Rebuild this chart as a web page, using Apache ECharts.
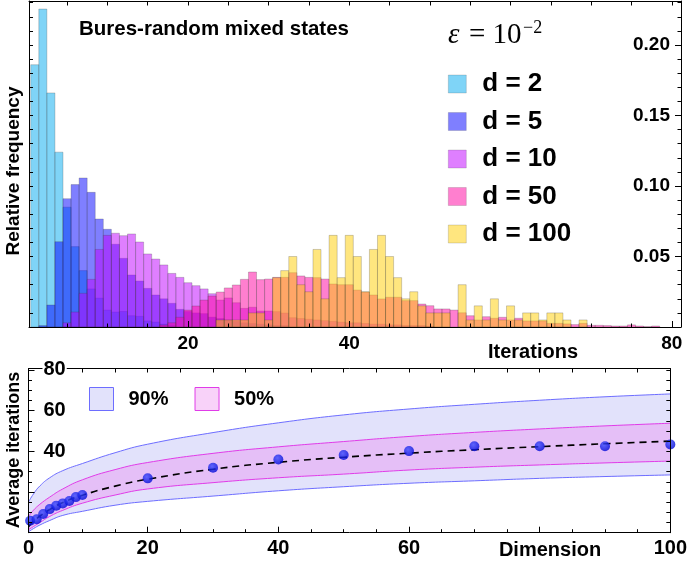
<!DOCTYPE html>
<html>
<head>
<meta charset="utf-8">
<script src="https://cdn.jsdelivr.net/npm/echarts@6/dist/echarts.min.js"></script>
<style>
html, body { margin: 0; padding: 0; background: #fff; }
#chart { width: 690px; height: 566px; }
</style>
</head>
<body>
<div id="chart"></div>
<script>
var FONT = '"Liberation Sans", Arial, sans-serif';

// top panel: relative frequency of iterations, bin n covers n-0.5 .. n+0.5
var d2Start = 1;
var d2 = [0.186, 0.2255, 0.166, 0.124, 0.085, 0.057, 0.040, 0.027, 0.0205, 0.012, 0.0106, 0.011, 0.008, 0.0076, 0.0043, 0.0035, 0.002, 0.001];
var d5Start = 2;
var d5 = [0.001, 0.0156, 0.0605, 0.091, 0.101, 0.1057, 0.0955, 0.0766, 0.0693, 0.0587, 0.0487, 0.0369, 0.0326, 0.0274, 0.0227, 0.020, 0.0168, 0.0125, 0.011, 0.010, 0.0095, 0.007, 0.006, 0.005, 0.004, 0.003, 0.0025, 0.002, 0.0015, 0.001, 0.001];
var d10Start = 5;
var d10 = [0.003, 0.0106, 0.0239, 0.0338, 0.055, 0.065, 0.0665, 0.0648, 0.066, 0.0603, 0.0518, 0.0482, 0.044, 0.038, 0.0352, 0.0314, 0.0293, 0.027, 0.0236, 0.0191, 0.0206, 0.0172, 0.0132, 0.014, 0.0113, 0.0113, 0.0109, 0.0099, 0.0066, 0.006, 0.0055, 0.005, 0.0045, 0.004, 0.0035, 0.003, 0.003, 0.0025, 0.002, 0.002, 0.0015, 0.0015, 0.001, 0.001, 0.001, 0.0005];
var d50Start = 17;
var d50 = [0.0014, 0.003, 0.0069, 0.012, 0.0149, 0.0191, 0.022, 0.0248, 0.0277, 0.0298, 0.0338, 0.039, 0.0336, 0.034, 0.0352, 0.0352, 0.0385, 0.0362, 0.0352, 0.035, 0.034, 0.0305, 0.030, 0.030, 0.0262, 0.0248, 0.0227, 0.0199, 0.0211, 0.0211, 0.0187, 0.0187, 0.0163, 0.0151, 0.0128, 0.0128, 0.012, 0.0101, 0.008, 0.005, 0.0073, 0.0062, 0.0069, 0.005, 0.0062, 0.0043, 0.0043, 0.0043, 0.0026, 0.0026, 0.0022, 0.0017, 0.0026, 0.0012, 0.0012, 0.001, 0.0007, 0.0007, 0.0015, 0.0007, 0.0003, 0.0007];
var d100Start = 24;
var d100 = [0.005, 0.005, 0.005, 0.005, 0.01, 0.01, 0.005, 0.035, 0.04, 0.05, 0.03, 0.025, 0.055, 0.02, 0.065, 0.035, 0.065, 0.05, 0.025, 0.055, 0.065, 0.05, 0.035, 0.02, 0.025, 0.015, 0.01, 0.01, 0.01, 0, 0.03, 0.005, 0.015, 0.005, 0.02, 0.005, 0.015, 0.005, 0.01, 0.01, 0.005, 0.01, 0.01, 0.005, 0, 0.005];
var histNames = ['d = 2', 'd = 5', 'd = 10', 'd = 50', 'd = 100'];
var histColors = ['rgba(0,170,240,0.5)', 'rgba(0,0,255,0.5)', 'rgba(192,0,255,0.5)', 'rgba(255,0,160,0.5)', 'rgba(255,205,0,0.5)'];

// bottom panel: average iterations vs dimension
var dims = [2, 3, 4, 5, 6, 7, 8, 9, 10, 20, 30, 40, 50, 60, 70, 80, 90, 100];
var avgIter = [5.9, 6.6, 9.2, 11.6, 13.3, 14.4, 15.6, 17.5, 18.5, 26.7, 31.9, 36.0, 38.2, 40.1, 42.5, 42.5, 42.5, 43.4];
var fitDim = [1.75, 2.5, 3.5, 5, 7, 10, 15, 20, 30, 40, 50, 60, 70, 80, 90, 100];
var fitMean = [2.9, 5.5, 8.2, 11.4, 14.8, 18.4, 22.9, 26.3, 31.2, 34.6, 37.1, 39.1, 40.8, 42.3, 43.7, 45];
var hi90 = [15, 19, 23, 27, 30.5, 34, 39.3, 43.5, 49.2, 54, 57.9, 60.8, 63.1, 65.1, 66.8, 68.2];
var lo90 = [0.5, 2, 3.8, 6, 8.5, 10.5, 13.5, 15.4, 18, 20.6, 22.6, 24.3, 25.5, 26.7, 27.6, 28.4];
var hi50 = [8, 11, 14, 17.5, 21.5, 26, 31, 34.5, 39, 42.2, 44.8, 47.3, 49.3, 51, 52.5, 53.8];
var lo50 = [1.5, 3, 5, 8, 11, 14.5, 18.5, 21.5, 24.6, 27, 28.8, 30.8, 32.2, 33.3, 34.3, 35.2];

// tick positions
var iterMajor = [20, 40, 60, 80];
var iterLabels = [20, 40, 80];
var freqMajor = [0.05, 0.1, 0.15, 0.2];
var dimLabels = [1.75, 20, 40, 60, 100];
var avgMajor = [20, 40, 60, 80];
var avgLabels = [40, 60, 80];

function steps(a, b, s) {
	var out = [];
	for (var v = a; v <= b + 1e-9; v += s) out.push(Math.round(v * 1000) / 1000);
	return out;
}
function without(list, drop) {
	return list.filter(function(v) { return drop.indexOf(v) < 0; });
}
function bins(start, vals) {
	return vals.map(function(v, i) { return [start + i, v]; });
}
// y first so that the stack is done on the value dimension
function yx(xs, ys) {
	return xs.map(function(x, i) { return [ys[i], x]; });
}
function diff(a, b) {
	return a.map(function(v, i) { return v - b[i]; });
}

var fiveTicks = steps(5, 80, 5);
var fiveTicksDim = steps(5, 95, 5);
var freqTicks = steps(0.01, 0.23, 0.01);

function histBar(params, api) {
	var n = api.value(0), v = api.value(1);
	if (!v) return null;
	var a = api.coord([n - 0.5, v]);
	var b = api.coord([n + 0.5, 0]);
	return {
		type: 'rect',
		shape: { x: a[0], y: a[1], width: b[0] - a[0], height: b[1] - a[1] },
		style: { fill: api.visual('color'), stroke: 'rgba(60,60,60,0.35)', lineWidth: 0.7 }
	};
}

var black = { color: '#000', width: 1 };
function tickAxis(grid, pos, min, max, ticks, len, line) {
	return {
		gridIndex: grid, type: 'value', position: pos, min: min, max: max, z: 10,
		axisLine: { show: line, onZero: false, lineStyle: black },
		axisTick: { show: true, inside: true, length: len, customValues: ticks, lineStyle: black },
		axisLabel: { show: false },
		splitLine: { show: false }
	};
}
var labelStyle = { color: '#000', fontWeight: 'bold', fontFamily: FONT };

var histX = [0.285, 81.14];
var freqY = [0, 0.2312];
var dimX = [1.75, 100];
var avgY = [0, 80.7];

var xAxes = [
	tickAxis(0, 'bottom', histX[0], histX[1], iterMajor, 6, true),
	tickAxis(0, 'bottom', histX[0], histX[1], without(fiveTicks, iterMajor), 3.5, false),
	tickAxis(0, 'top', histX[0], histX[1], fiveTicks, 4.5, true),
	tickAxis(1, 'bottom', dimX[0], dimX[1], avgMajor, 6, true),
	tickAxis(1, 'bottom', dimX[0], dimX[1], without(fiveTicksDim, avgMajor), 3.5, false),
	tickAxis(1, 'top', dimX[0], dimX[1], fiveTicksDim, 4, true)
];
xAxes[0].axisLabel = Object.assign({ show: true, customValues: iterLabels, margin: 7, fontSize: 19 }, labelStyle);
xAxes[3].axisLabel = Object.assign({
	show: true, customValues: dimLabels, margin: 6, fontSize: 20,
	formatter: function(v) { return v < 2 ? '0' : String(v); }
}, labelStyle);

var yAxes = [
	tickAxis(0, 'right', freqY[0], freqY[1], freqMajor, 6, true),
	tickAxis(0, 'right', freqY[0], freqY[1], without(freqTicks, freqMajor), 3.5, false),
	tickAxis(0, 'left', freqY[0], freqY[1], freqTicks, 4, true),
	tickAxis(1, 'left', avgY[0], avgY[1], avgMajor, 6, true),
	tickAxis(1, 'left', avgY[0], avgY[1], without(fiveTicks, avgMajor), 3.5, false),
	tickAxis(1, 'right', avgY[0], avgY[1], fiveTicks, 4, true)
];
yAxes[0].axisLabel = Object.assign({
	show: true, inside: true, customValues: freqMajor, margin: 11, fontSize: 19,
	formatter: function(v) { return v.toFixed(2); }
}, labelStyle);
yAxes[3].axisLabel = Object.assign({
	show: true, inside: true, customValues: avgLabels, margin: 14, fontSize: 20,
	backgroundColor: '#fff', padding: [0, 1]
}, labelStyle);

var histData = [bins(d2Start, d2), bins(d5Start, d5), bins(d10Start, d10), bins(d50Start, d50), bins(d100Start, d100)];
var series = histData.map(function(data, i) {
	return {
		type: 'custom', name: histNames[i], xAxisIndex: 0, yAxisIndex: 0,
		renderItem: histBar, itemStyle: { color: histColors[i] }, data: data, z: 2
	};
});

var blueLine = { color: '#6d6dff', width: 1 };
var pinkLine = { color: '#e03ce8', width: 1 };
function bandLine(name, data, stack, line, area, z) {
	var s = {
		type: 'line', name: name, xAxisIndex: 3, yAxisIndex: 3, data: data,
		encode: { x: 1, y: 0 }, stack: stack, smooth: 0.5,
		symbol: 'none', lineStyle: line, z: z, silent: true
	};
	if (area) s.areaStyle = { color: area, opacity: 1 };
	return s;
}
series.push(bandLine('lo90', yx(fitDim, lo90), 'b90', blueLine, null, 3));
series.push(bandLine('90%', yx(fitDim, diff(hi90, lo90)), 'b90', blueLine, '#e2e2fb', 2));
series.push(bandLine('lo50', yx(fitDim, lo50), 'b50', pinkLine, null, 3));
series.push(bandLine('50%', yx(fitDim, diff(hi50, lo50)), 'b50', pinkLine, 'rgba(236,120,240,0.33)', 2));
series.push({
	type: 'line', name: 'fit', xAxisIndex: 3, yAxisIndex: 3,
	data: fitDim.map(function(x, i) { return [x, fitMean[i]]; }),
	smooth: 0.5, symbol: 'none', z: 4, silent: true,
	lineStyle: { color: '#000', width: 1.6, type: [7, 5] }
});
series.push({
	type: 'scatter', name: 'mean', xAxisIndex: 3, yAxisIndex: 3,
	data: dims.map(function(x, i) { return [x, avgIter[i]]; }),
	symbolSize: 10, z: 5, silent: true,
	itemStyle: {
		color: { type: 'radial', x: 0.4, y: 0.35, r: 0.65,
			colorStops: [{ offset: 0, color: '#3d4dff' }, { offset: 1, color: '#0008d6' }] }
	}
});

var option = {
	animation: false,
	backgroundColor: '#fff',
	grid: [
		{ left: 29, right: 9, top: 1, bottom: 239 },
		{ left: 28.5, right: 5, top: 368.5, bottom: 33.3 }
	],
	xAxis: xAxes,
	yAxis: yAxes,
	legend: [{
		orient: 'vertical', left: 448, top: 71, padding: 0, itemWidth: 18, itemHeight: 18, itemGap: 11.5,
		icon: 'rect', selectedMode: false,
		textStyle: { color: '#000', fontSize: 26, fontWeight: 'bold', fontFamily: FONT, padding: [0, 0, 0, 11] },
		data: histNames.map(function(n, i) {
			return { name: n, itemStyle: { color: histColors[i], borderColor: 'rgba(60,60,60,0.3)', borderWidth: 0.6 } };
		})
	}, {
		orient: 'horizontal', left: 89, top: 387, padding: 0, itemWidth: 24, itemHeight: 23, itemGap: 26,
		icon: 'rect', selectedMode: false,
		textStyle: { color: '#000', fontSize: 20, fontWeight: 'bold', fontFamily: FONT, padding: [0, 0, 0, 10] },
		data: [
			{ name: '90%', itemStyle: { color: '#e2e2fb', borderColor: '#6d6dff', borderWidth: 1 } },
			{ name: '50%', itemStyle: { color: '#f8d2f9', borderColor: '#e03ce8', borderWidth: 1 } }
		]
	}],
	graphic: [
		{ type: 'text', left: 79, top: 18.5, style: { text: 'Bures-random mixed states', font: 'bold 20.5px ' + FONT, fill: '#000' } },
		{ type: 'text', left: 448, top: 21, style: { text: 'ε', font: 'italic 29px "Liberation Serif", serif', fill: '#000' } },
		{ type: 'text', left: 469, top: 21, style: { text: '= 10', font: '29px "Liberation Serif", serif', fill: '#000' } },
		{ type: 'text', left: 523, top: 19, style: { text: '−2', font: '18px "Liberation Serif", serif', fill: '#000' } },
		{ type: 'text', x: 14, y: 171, rotation: Math.PI / 2, style: { text: 'Relative frequency', font: 'bold 19px ' + FONT, fill: '#000', align: 'center', verticalAlign: 'middle' } },
		{ type: 'text', x: 14, y: 450, rotation: Math.PI / 2, style: { text: 'Average iterations', font: 'bold 18px ' + FONT, fill: '#000', align: 'center', verticalAlign: 'middle' } },
		{ type: 'text', x: 533, y: 352, style: { text: 'Iterations', font: 'bold 20px ' + FONT, fill: '#000', align: 'center', verticalAlign: 'middle' } },
		{ type: 'text', x: 550, y: 550, style: { text: 'Dimension', font: 'bold 20px ' + FONT, fill: '#000', align: 'center', verticalAlign: 'middle' } }
	],
	series: series
};

var chart = echarts.init(document.getElementById('chart'));
chart.setOption(option);
</script>
</body>
</html>
